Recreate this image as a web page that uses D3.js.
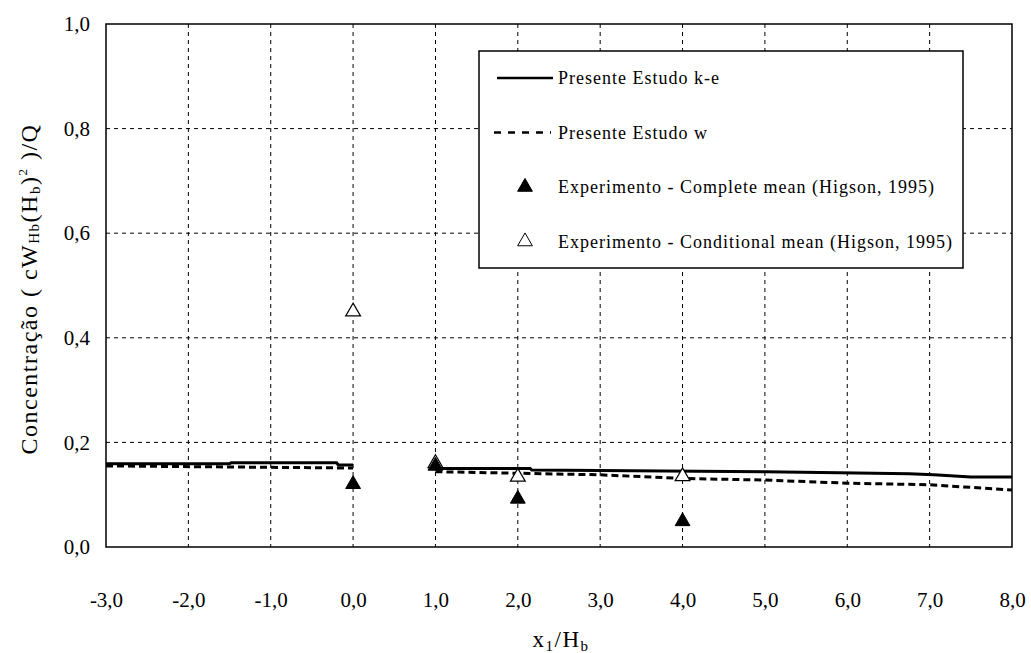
<!DOCTYPE html>
<html>
<head>
<meta charset="utf-8">
<script src="https://cdn.jsdelivr.net/npm/d3@7"></script>
</head>
<body style="margin:0; background:#fff">
<div class="chart"></div>
<script>
// data
var xTicks = [-3, -2, -1, 0, 1, 2, 3, 4, 5, 6, 7, 8];
var yTicks = [0, 0.2, 0.4, 0.6, 0.8, 1.0];

// Presente Estudo k-e (solid), two pieces
var keUpX = [-3, -1.5, -1.48, -0.2, -0.18, 0];
var keUpY = [0.159, 0.159, 0.161, 0.161, 0.157, 0.157];
var keDnX = [1, 2.15, 2.17, 5, 5.9, 6.75, 7.05, 7.5, 8];
var keDnY = [0.150, 0.150, 0.147, 0.144, 0.142, 0.140, 0.138, 0.134, 0.134];

// Presente Estudo w (dashed)
var wUpX = [-3, -1.5, 0];
var wUpY = [0.155, 0.153, 0.151];
var wDnX = [1, 2, 3, 4, 5, 6, 7, 8];
var wDnY = [0.144, 0.141, 0.138, 0.131, 0.128, 0.122, 0.119, 0.109];

// Experimento
var completeX = [0, 1, 2, 4];
var completeY = [0.12, 0.155, 0.092, 0.049];
var condX = [0, 1, 2, 4];
var condY = [0.45, 0.16, 0.134, 0.135];

var svgWidth = 1031, svgHeight = 653;
var margin = { top: 24, right: 19, bottom: 106, left: 106 };
var width = svgWidth - margin.left - margin.right;
var height = svgHeight - margin.top - margin.bottom;
var fmt = function(v) { return d3.format(".1f")(v).replace(".", ",").replace("\u2212", "-"); };
var serif = "'Liberation Serif'";

var svg = d3.select(".chart").append("svg")
  .attr("width", svgWidth).attr("height", svgHeight);
var chart = svg.append("g")
  .attr("transform", `translate(${margin.left},${margin.top})`);

var x = d3.scaleLinear().domain([-3, 8]).range([0, width]);
var y = d3.scaleLinear().domain([0, 1]).range([height, 0]);

// grid
chart.append("g").selectAll("line").data(xTicks.slice(1, -1)).enter().append("line")
  .attr("x1", d => x(d)).attr("x2", d => x(d))
  .attr("y1", 0).attr("y2", height)
  .attr("stroke", "#000").attr("stroke-width", 1).attr("stroke-dasharray", "4,4");
chart.append("g").selectAll("line").data(yTicks.slice(1, -1)).enter().append("line")
  .attr("x1", 0).attr("x2", width)
  .attr("y1", d => y(d)).attr("y2", d => y(d))
  .attr("stroke", "#000").attr("stroke-width", 1).attr("stroke-dasharray", "4,4");

// axes (labels only, frame drawn separately)
var xAxis = d3.axisBottom(x).tickValues(xTicks).tickSize(0).tickPadding(45).tickFormat(fmt);
var gx = chart.append("g").attr("transform", `translate(0,${height})`).call(xAxis);
gx.select(".domain").remove();
gx.selectAll("text").style("font-family", serif).style("font-size", "21px").attr("fill", "#000");

var yAxis = d3.axisLeft(y).tickValues(yTicks).tickSize(0).tickPadding(16).tickFormat(fmt);
var gy = chart.append("g").call(yAxis);
gy.select(".domain").remove();
gy.selectAll("text").style("font-family", serif).style("font-size", "21px").attr("fill", "#000");

chart.append("rect")
  .attr("width", width).attr("height", height)
  .attr("fill", "none").attr("stroke", "#000").attr("stroke-width", 1.5);

// lines
var line = d3.line().x(d => x(d[0])).y(d => y(d[1]));
function pts(xs, ys) { return xs.map((v, i) => [v, ys[i]]); }

[pts(wUpX, wUpY), pts(wDnX, wDnY)].forEach(function(p) {
  chart.append("path").datum(p).attr("d", line)
    .attr("fill", "none").attr("stroke", "#000").attr("stroke-width", 3)
    .attr("stroke-dasharray", "7,4");
});
[pts(keUpX, keUpY), pts(keDnX, keDnY)].forEach(function(p) {
  chart.append("path").datum(p).attr("d", line)
    .attr("fill", "none").attr("stroke", "#000").attr("stroke-width", 3);
});

// markers
var tri = d3.symbol().type(d3.symbolTriangle).size(95);
chart.selectAll(".cond").data(pts(condX, condY)).enter().append("path")
  .attr("class", "cond").attr("d", tri)
  .attr("transform", d => `translate(${x(d[0])},${y(d[1])})`)
  .attr("fill", "#fff").attr("stroke", "#000").attr("stroke-width", 1.2);
chart.selectAll(".comp").data(pts(completeX, completeY)).enter().append("path")
  .attr("class", "comp").attr("d", tri)
  .attr("transform", d => `translate(${x(d[0])},${y(d[1])})`)
  .attr("fill", "#000").attr("stroke", "#000").attr("stroke-width", 1);

// legend
var legend = svg.append("g").attr("transform", "translate(479,51)");
legend.append("rect").attr("width", 484).attr("height", 217)
  .attr("fill", "#fff").attr("stroke", "#000").attr("stroke-width", 1.5);
var rows = [
  { label: "Presente Estudo k-e", kind: "solid" },
  { label: "Presente Estudo w", kind: "dash" },
  { label: "Experimento - Complete mean (Higson, 1995)", kind: "filled" },
  { label: "Experimento - Conditional mean (Higson, 1995)", kind: "open" }
];
rows.forEach(function(r, i) {
  var cy = 27 + i * 54.5;
  var g = legend.append("g").attr("transform", `translate(0,${cy})`);
  if (r.kind === "solid") {
    g.append("line").attr("x1", 18).attr("x2", 74).attr("stroke", "#000").attr("stroke-width", 2.5);
  } else if (r.kind === "dash") {
    g.append("line").attr("x1", 15).attr("x2", 72).attr("stroke", "#000").attr("stroke-width", 2.5)
      .attr("stroke-dasharray", "7,7");
  } else {
    g.append("path").attr("d", tri).attr("transform", "translate(46,0)")
      .attr("fill", r.kind === "filled" ? "#000" : "#fff")
      .attr("stroke", "#000").attr("stroke-width", 1);
  }
  g.append("text").attr("x", 79).attr("dy", "0.35em")
    .style("font-family", serif).style("font-size", "18px").style("letter-spacing", "1px")
    .text(r.label);
});

// axis titles
svg.append("text")
  .attr("x", 561).attr("y", 647).attr("text-anchor", "middle")
  .style("font-family", serif).style("font-size", "23px").style("letter-spacing", "1.5px")
  .call(function(t) {
    t.append("tspan").text("x");
    t.append("tspan").style("font-size", "15px").attr("dy", 4).text("1");
    t.append("tspan").attr("dy", -4).text("/H");
    t.append("tspan").style("font-size", "15px").attr("dy", 4).text("b");
  });

svg.append("text")
  .attr("transform", "translate(37,289) rotate(-90)")
  .attr("text-anchor", "middle")
  .style("font-family", serif).style("font-size", "24px").style("letter-spacing", "1.5px")
  .call(function(t) {
    t.append("tspan").text("Concentração ( cW");
    t.append("tspan").style("font-size", "15px").attr("dy", 2).text("Hb");
    t.append("tspan").attr("dy", -2).text("(H");
    t.append("tspan").style("font-size", "15px").attr("dy", 3).text("b");
    t.append("tspan").attr("dy", -3).text(")");
    t.append("tspan").style("font-size", "13px").attr("dy", -10).text("2");
    t.append("tspan").attr("dy", 10).text(" )/Q");
  });
</script>
</body>
</html>
